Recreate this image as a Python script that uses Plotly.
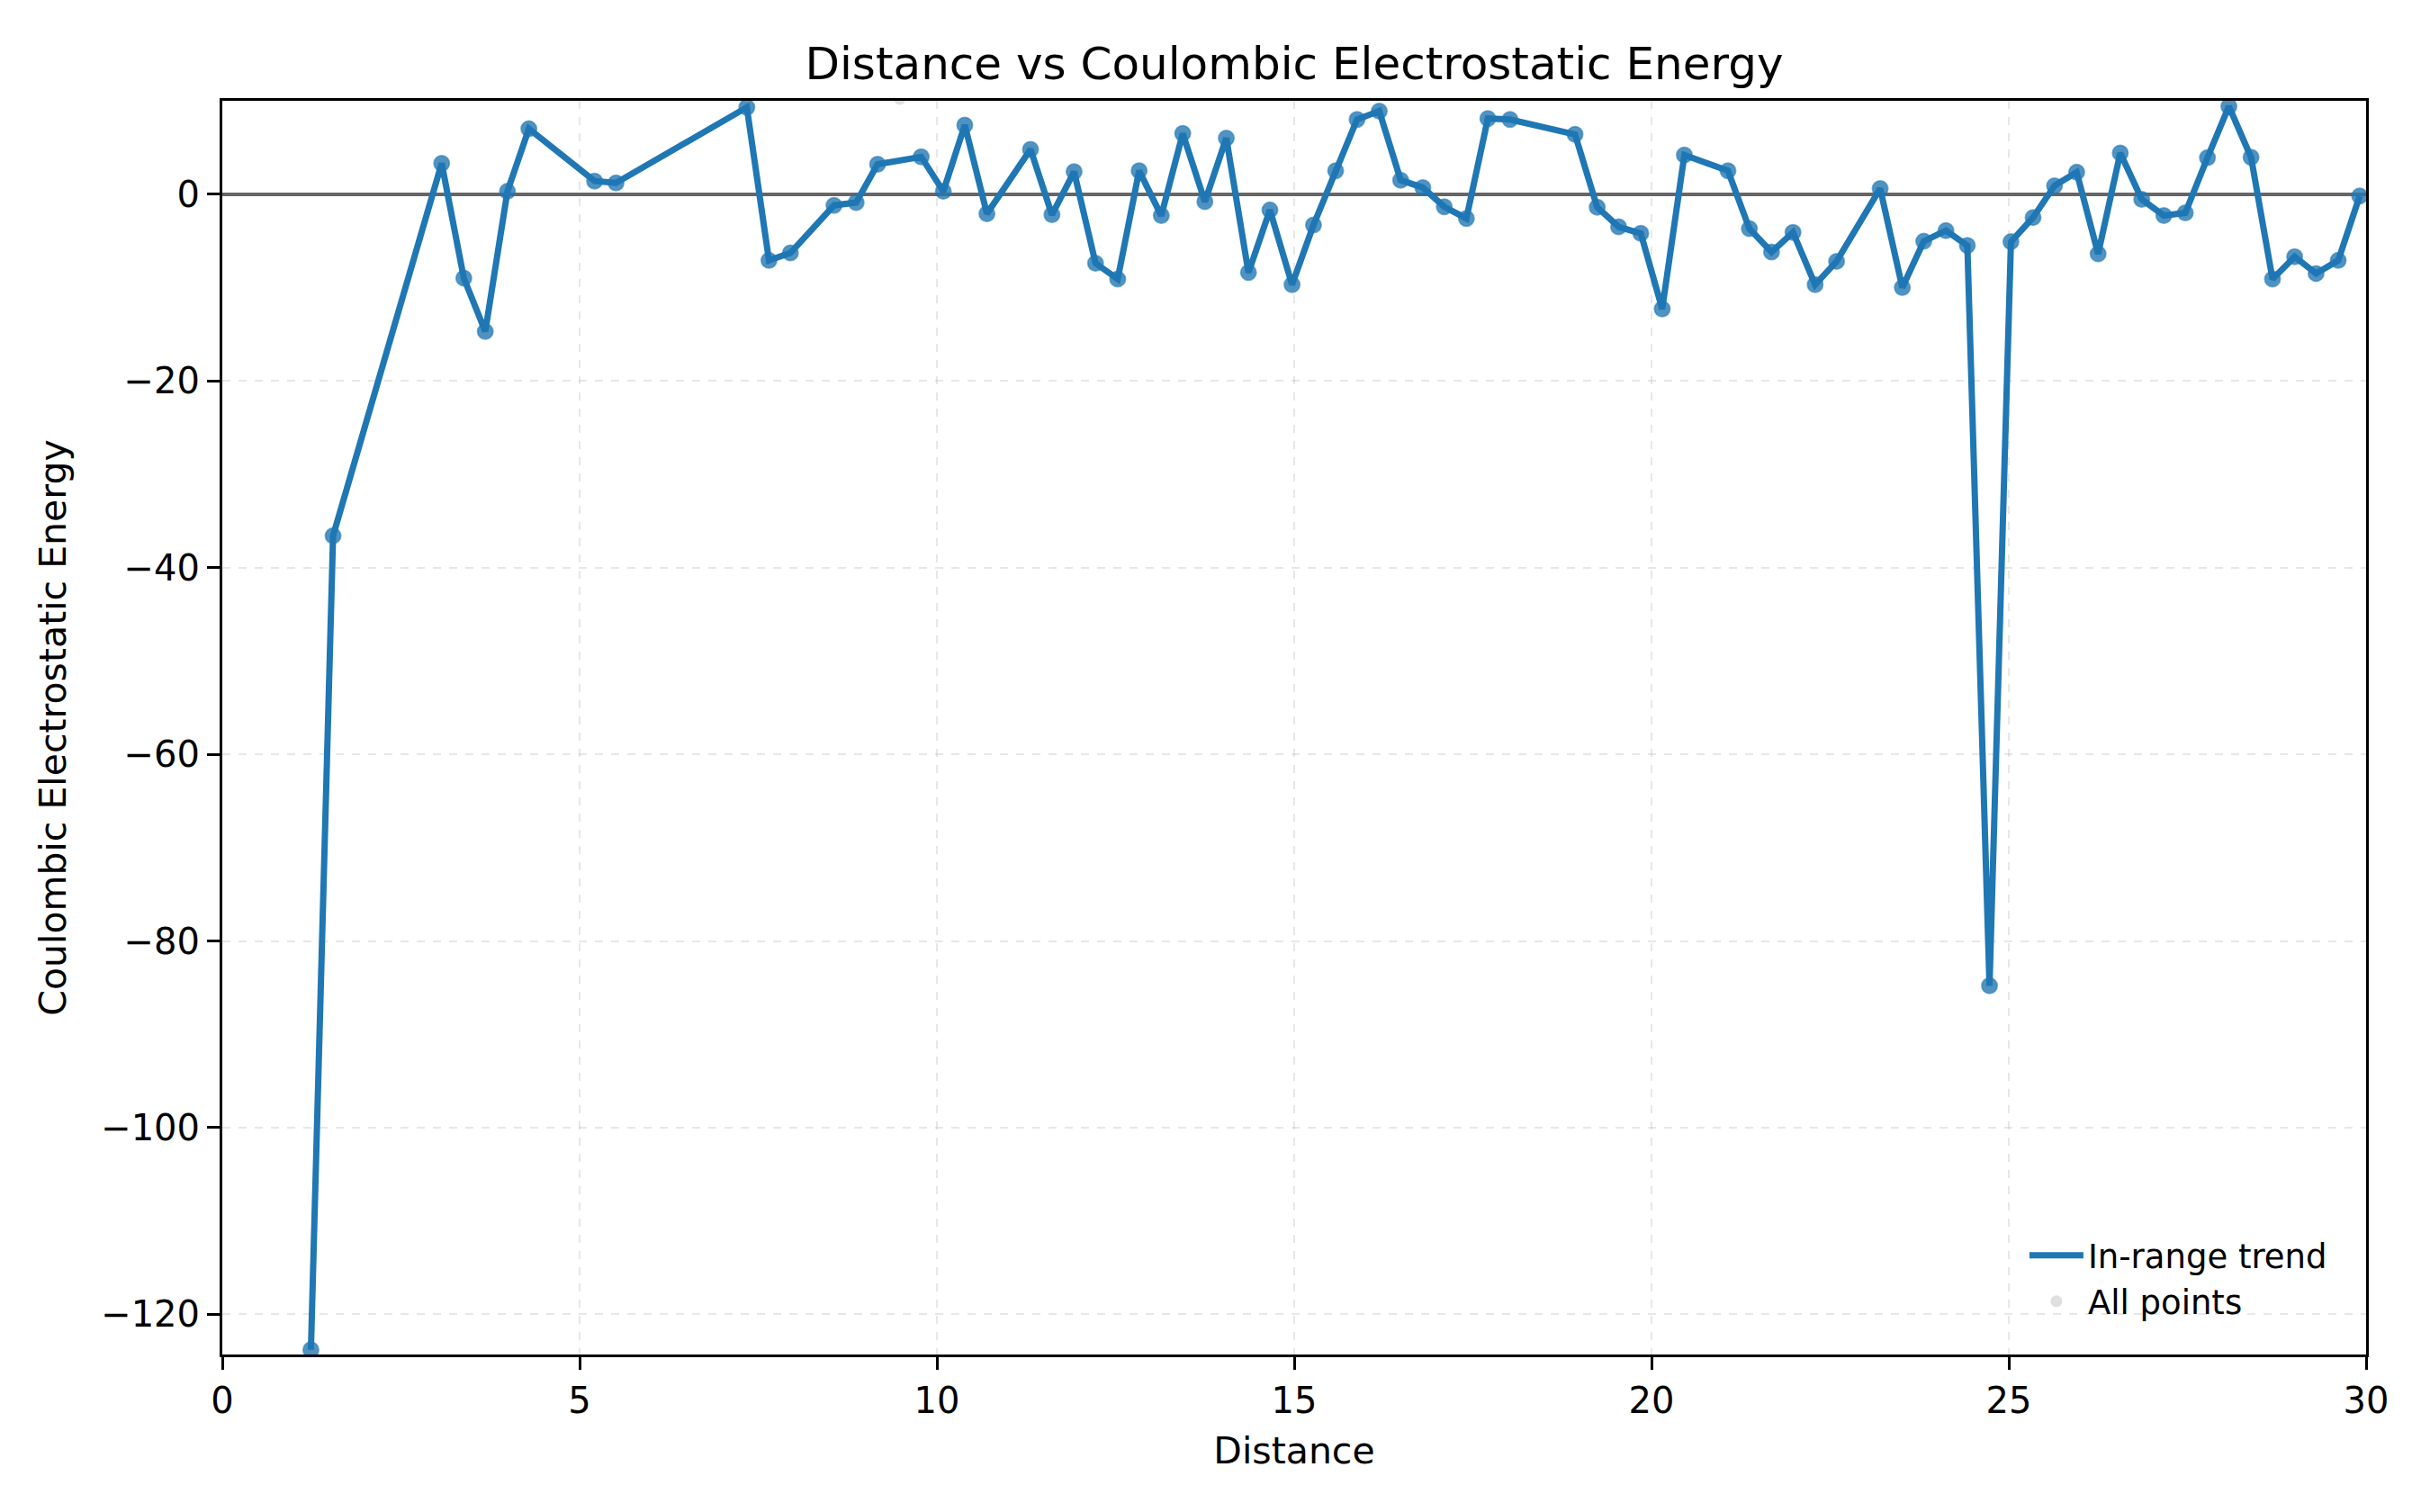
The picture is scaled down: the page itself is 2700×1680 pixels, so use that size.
import plotly.graph_objects as go

# distance / energy pairs that fall inside the plotted range
distance = [1.24, 1.55, 3.07, 3.38, 3.68, 3.99, 4.29, 5.21, 5.51, 7.34,
            7.65, 7.95, 8.56, 8.87, 9.17, 9.78, 10.09, 10.39, 10.70, 11.31,
            11.61, 11.92, 12.22, 12.53, 12.83, 13.14, 13.44, 13.75, 14.05, 14.36,
            14.66, 14.97, 15.27, 15.58, 15.88, 16.19, 16.49, 16.80, 17.10, 17.41,
            17.71, 18.02, 18.93, 19.24, 19.54, 19.85, 20.15, 20.46, 21.07, 21.37,
            21.68, 21.98, 22.29, 22.59, 23.20, 23.51, 23.81, 24.12, 24.42, 24.73,
            25.03, 25.34, 25.64, 25.95, 26.25, 26.56, 26.86, 27.17, 27.47, 27.78,
            28.08, 28.39, 28.69, 29.00, 29.30, 29.61, 29.91]
energy = [-123.8, -36.6, 3.3, -9.0, -14.7, 0.3, 7.0, 1.4, 1.2, 9.3,
          -7.1, -6.3, -1.2, -0.9, 3.2, 4.0, 0.3, 7.4, -2.1, 4.8,
          -2.2, 2.4, -7.4, -9.1, 2.5, -2.3, 6.5, -0.8, 6.0, -8.4,
          -1.7, -9.7, -3.3, 2.5, 8.0, 8.9, 1.5, 0.7, -1.35, -2.6,
          8.1, 8.0, 6.4, -1.4, -3.5, -4.2, -12.3, 4.2, 2.5, -3.7,
          -6.2, -4.1, -9.7, -7.2, 0.6, -10.0, -5.05, -3.9, -5.5, -84.8,
          -5.1, -2.5, 0.9, 2.35, -6.4, 4.4, -0.55, -2.3, -2.0, 3.9,
          9.4, 3.95, -9.1, -6.7, -8.5, -7.1, -0.2]

# points just outside the range (only visible as clipped gray dots)
out_distance = [9.48]
out_energy = [10.2]

all_distance = distance + out_distance
all_energy = energy + out_energy

blue = "#1f77b4"
font = "DejaVu Sans"

fig = go.Figure()

fig.add_trace(go.Scatter(
    x=all_distance, y=all_energy, mode="markers", name="All points",
    marker=dict(color="rgba(128,128,128,0.25)", size=13, line=dict(width=0)),
))
fig.add_trace(go.Scatter(
    x=distance, y=energy, mode="lines", name="In-range trend",
    line=dict(color=blue, width=7),
))
fig.add_trace(go.Scatter(
    x=distance, y=energy, mode="markers", showlegend=False,
    marker=dict(color="rgba(31,119,180,0.75)", size=17,
                line=dict(color="rgba(31,119,180,0.6)", width=2)),
))

axis_common = dict(
    showline=True, linecolor="black", linewidth=3, mirror=True,
    ticks="outside", ticklen=14, tickwidth=3, tickcolor="black",
    tickfont=dict(family=font, size=40, color="black"),
    showgrid=True, gridcolor="rgba(176,176,176,0.3)", gridwidth=2, griddash="dash",
)

fig.update_xaxes(
    range=[0, 30], dtick=5, zeroline=False,
    title=dict(text="Distance", font=dict(family=font, size=41, color="black"), standoff=20),
    **axis_common,
)
fig.update_yaxes(
    range=[-124.3, 10], tick0=0, dtick=20,
    zeroline=True, zerolinecolor="rgba(0,0,0,0.6)", zerolinewidth=4,
    title=dict(text="Coulombic Electrostatic Energy", font=dict(family=font, size=41, color="black"), standoff=26),
    **axis_common,
)

fig.update_layout(
    width=2700, height=1680,
    margin={"l": 239, "r": 79, "t": 104, "b": 183},
    paper_bgcolor="white", plot_bgcolor="white",
    title=dict(text="Distance vs Coulombic Electrostatic Energy", x=0.5, xref="paper",
               y=1 - 62 / 1680, yref="container", yanchor="middle",
               font=dict(family=font, size=50, color="black")),
    legend=dict(x=0.984, y=0.02, xanchor="right", yanchor="bottom",
                bgcolor="rgba(255,255,255,0)", borderwidth=0,
                font=dict(family=font, size=37, color="black"),
                traceorder="reversed", itemwidth=60),
    showlegend=True,
)

fig.write_html("out.html")
